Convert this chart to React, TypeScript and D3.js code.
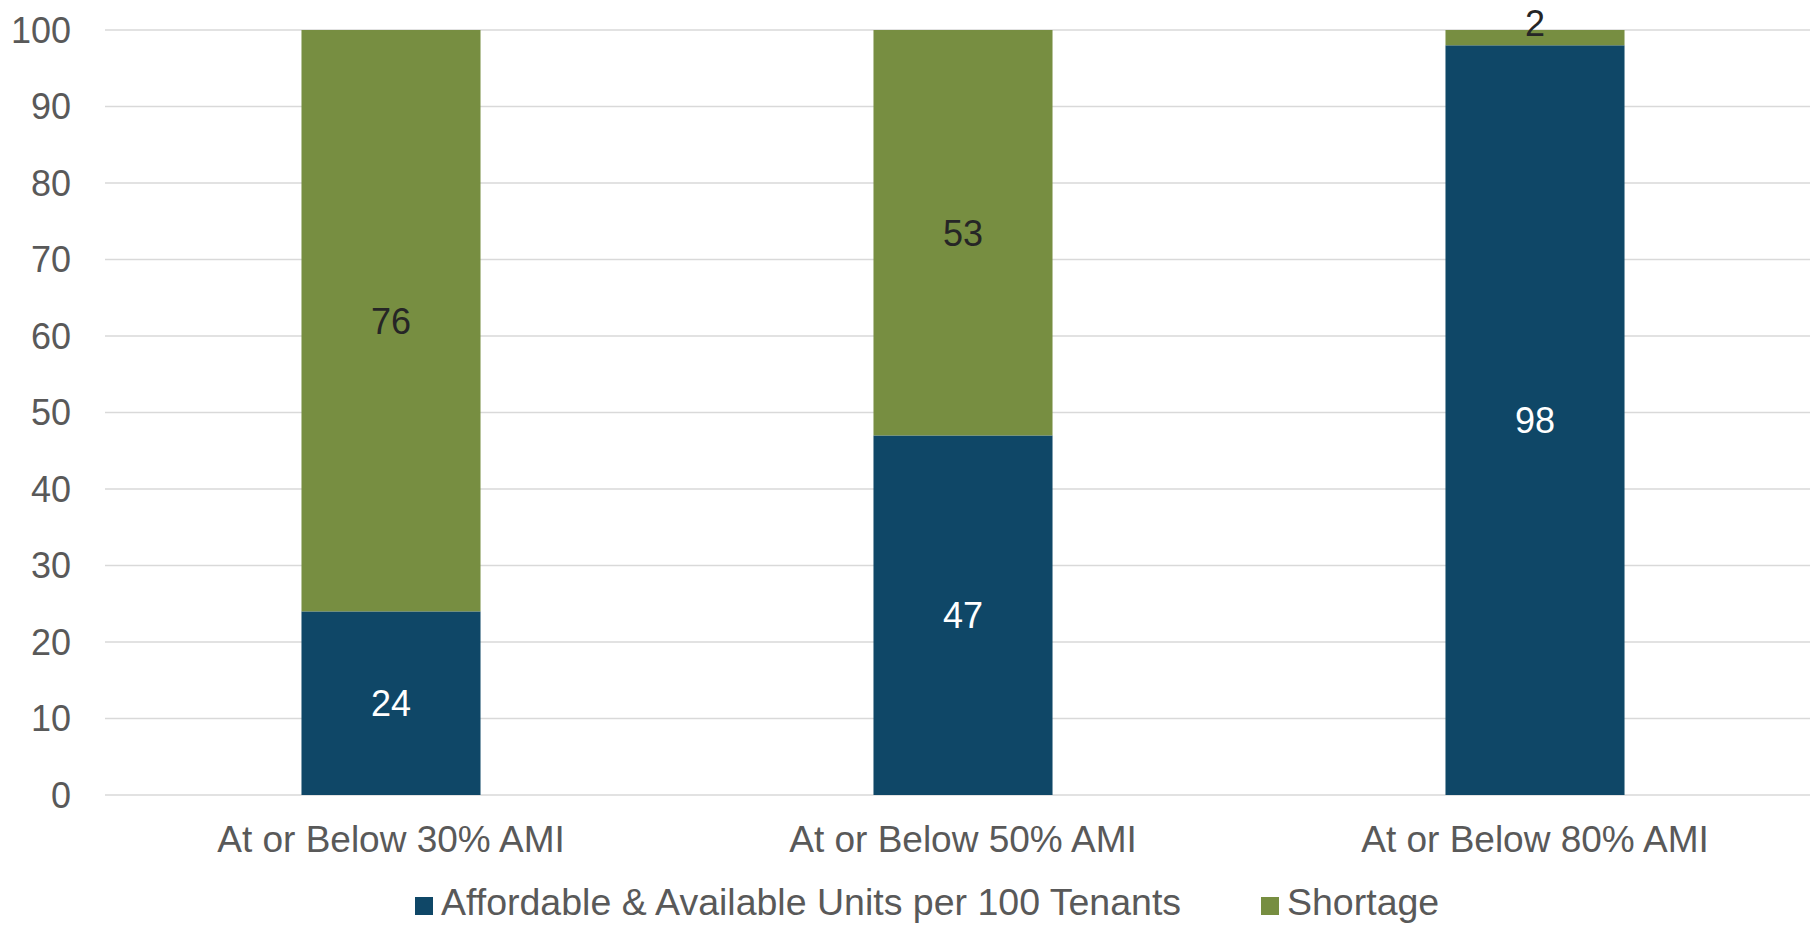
import * as d3 from "d3";
import React, { useRef, useEffect } from "react";

const categories = ["At or Below 30% AMI", "At or Below 50% AMI", "At or Below 80% AMI"];
const affordable = [24, 47, 98];
const shortage = [76, 53, 2];
const seriesNames = ["Affordable & Available Units per 100 Tenants", "Shortage"];
const seriesColors = ["#0f4767", "#778e41"];
const labelColors = ["#ffffff", "#262626"];
const yTicks = [0, 10, 20, 30, 40, 50, 60, 70, 80, 90, 100];

export default function App() {
  const svgRef = useRef<SVGSVGElement>(null);

  useEffect(() => {
    const width = 1810;
    const height = 925;
    const plot = { left: 105, right: 1821, top: 30, bottom: 795 };

    const svg = d3.select(svgRef.current);
    svg.selectAll("*").remove();
    svg.attr("width", width).attr("height", height).style("background", "#ffffff");

    const font = "'Liberation Sans', Arial, sans-serif";

    const x = d3
      .scaleBand()
      .domain(categories)
      .range([plot.left, plot.right])
      .paddingInner(0.687)
      .paddingOuter(0.3435);
    const y = d3.scaleLinear().domain([0, 100]).range([plot.bottom, plot.top]);

    // gridlines
    svg
      .append("g")
      .selectAll("line")
      .data(yTicks)
      .enter()
      .append("line")
      .attr("x1", plot.left)
      .attr("x2", width)
      .attr("y1", (d) => y(d))
      .attr("y2", (d) => y(d))
      .attr("stroke", "#d9d9d9")
      .attr("stroke-width", 1.5);

    // y tick labels
    svg
      .append("g")
      .selectAll("text")
      .data(yTicks)
      .enter()
      .append("text")
      .attr("x", 71)
      .attr("y", (d) => y(d))
      .attr("dy", "0.36em")
      .attr("text-anchor", "end")
      .style("font-family", font)
      .style("font-size", "36px")
      .style("fill", "#595959")
      .text((d) => d);

    const rows = categories.map((c, i) => ({ cat: c, a: affordable[i], s: shortage[i] }));
    const stack = d3.stack<any>().keys(["a", "s"])(rows);

    stack.forEach((layer, li) => {
      const g = svg.append("g");
      g.selectAll("rect")
        .data(layer)
        .enter()
        .append("rect")
        .attr("x", (d: any) => x(d.data.cat)!)
        .attr("width", x.bandwidth())
        .attr("y", (d: any) => y(d[1]))
        .attr("height", (d: any) => y(d[0]) - y(d[1]))
        .attr("fill", seriesColors[li]);

      g.selectAll("text")
        .data(layer)
        .enter()
        .append("text")
        .attr("x", (d: any) => x(d.data.cat)! + x.bandwidth() / 2)
        .attr("y", (d: any) => {
          const h = y(d[0]) - y(d[1]);
          return h < 30 ? y(d[1]) - 7 : (y(d[0]) + y(d[1])) / 2;
        })
        .attr("dy", "0.36em")
        .attr("text-anchor", "middle")
        .style("font-family", font)
        .style("font-size", "36px")
        .style("fill", labelColors[li])
        .text((d: any) => d[1] - d[0]);
    });

    // x labels
    svg
      .append("g")
      .selectAll("text")
      .data(categories)
      .enter()
      .append("text")
      .attr("x", (d) => x(d)! + x.bandwidth() / 2)
      .attr("y", 852)
      .attr("text-anchor", "middle")
      .style("font-family", font)
      .style("font-size", "37px")
      .style("fill", "#595959")
      .text((d) => d);

    // legend
    const legendX = [415, 1261];
    const lg = svg.append("g");
    seriesNames.forEach((name, i) => {
      lg.append("rect")
        .attr("x", legendX[i])
        .attr("y", 897)
        .attr("width", 18)
        .attr("height", 18)
        .attr("fill", seriesColors[i]);
      lg.append("text")
        .attr("x", legendX[i] + 26)
        .attr("y", 915)
        .style("font-family", font)
        .style("font-size", "37.5px")
        .style("fill", "#595959")
        .text(name);
    });
  }, []);

  return (
    <svg
      ref={svgRef}
      style={{ position: "absolute", left: 0, top: 0, display: "block" }}
    ></svg>
  );
}
